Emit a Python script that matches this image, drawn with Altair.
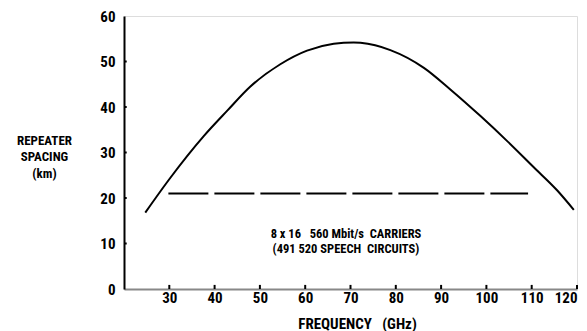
import altair as alt
import pandas as pd

# Curve: repeater spacing (km) vs frequency (GHz)
freq = [24.7, 30.2, 37.6, 42.8, 47.9, 54.5, 60.4, 66.3, 70.7, 72.2, 78.8, 86.2, 92.1, 98.7, 104.6, 110.4, 115.6, 119.3]
spacing = [16.8, 24.4, 33.6, 39.2, 44.5, 49.4, 52.4, 53.9, 54.2, 54.1, 52.5, 48.6, 43.8, 38.0, 32.5, 26.8, 21.7, 17.4]

# Dashed reference line
dash_x = [29.8, 109.2]
dash_y = [21, 21]

# Annotation
NB = "\u00a0"
note_lines = ["8 x 16" + NB * 3 + "560 Mbit/s" + NB * 2 + "CARRIERS",
              "(491" + NB + "520 SPEECH" + NB * 2 + "CIRCUITS)"]
note_x = [69, 69]
note_y = [12.1, 8.9]

x_ticks = [30, 40, 50, 60, 70, 80, 90, 100, 110, 120]
y_ticks = [0, 10, 20, 30, 40, 50, 60]
y_minor = [10, 20, 30, 40, 50]

FONT = "Roboto Condensed, Liberation Sans Narrow, Roboto, sans-serif"

curve_df = pd.DataFrame({"f": freq, "s": spacing})
dash_df = pd.DataFrame({"f": dash_x, "s": dash_y})
note_df = pd.DataFrame({"f": note_x, "s": note_y, "t": note_lines})
xt_df = pd.DataFrame({"f": x_ticks, "s0": [0] * len(x_ticks), "s1": [0.9] * len(x_ticks)})
yt_df = pd.DataFrame({"f0": [20] * len(y_minor), "f1": [20.6] * len(y_minor), "s": y_minor})

xs = alt.Scale(domain=[20, 120], nice=False, zero=False)
ys = alt.Scale(domain=[0, 60], nice=False)

x_axis = alt.Axis(
    values=x_ticks, title="FREQUENCY" + NB * 3 + "(GHz)", grid=False, ticks=False,
    domainColor="#888888", domainWidth=2, labelPadding=1,
    labelFont=FONT, labelFontSize=15, labelFontWeight="bold", labelColor="black",
    titleFont=FONT, titleFontSize=15, titleFontWeight="bold", titleColor="black",
    titleY=34, titleBaseline="middle", titleX=233,
)
y_axis = alt.Axis(
    values=y_ticks, title=["REPEATER", "SPACING", "(km)"], grid=False, ticks=False,
    domainColor="black", domainWidth=2, labelPadding=9,
    labelFont=FONT, labelFontSize=15, labelFontWeight="bold", labelColor="black",
    titleFont=FONT, titleFontSize=13, titleFontWeight="bold", titleColor="black",
    titleAngle=0, titleAlign="center", titleBaseline="middle",
    titleX=-80, titleY=124, titleLineHeight=16.5,
)

curve = alt.Chart(curve_df).mark_line(
    color="black", strokeWidth=2, interpolate="monotone"
).encode(
    x=alt.X("f:Q", scale=xs, axis=x_axis),
    y=alt.Y("s:Q", scale=ys, axis=y_axis),
)

dash = alt.Chart(dash_df).mark_line(
    color="black", strokeWidth=2, strokeDash=[40, 6]
).encode(x=alt.X("f:Q", scale=xs), y=alt.Y("s:Q", scale=ys))

note = alt.Chart(note_df).mark_text(
    font=FONT, fontSize=12.5, fontWeight="bold", color="black", align="center", baseline="middle"
).encode(x=alt.X("f:Q", scale=xs), y=alt.Y("s:Q", scale=ys), text="t:N")

xt = alt.Chart(xt_df).mark_rule(color="black", strokeWidth=2).encode(
    x=alt.X("f:Q", scale=xs), y=alt.Y("s0:Q", scale=ys), y2="s1:Q"
)
yt = alt.Chart(yt_df).mark_rule(color="black", strokeWidth=2).encode(
    x=alt.X("f0:Q", scale=xs), x2="f1:Q", y=alt.Y("s:Q", scale=ys)
)

chart = alt.layer(curve, dash, note, xt, yt).properties(
    width=453, height=273,
    autosize=alt.AutoSizeParams(type="none"),
    padding={"left": 124, "top": 16, "right": 10, "bottom": 42},
).configure_view(stroke=None).configure(background="white")

chart.save("out.html", embed_options={"renderer": "svg", "actions": False})
